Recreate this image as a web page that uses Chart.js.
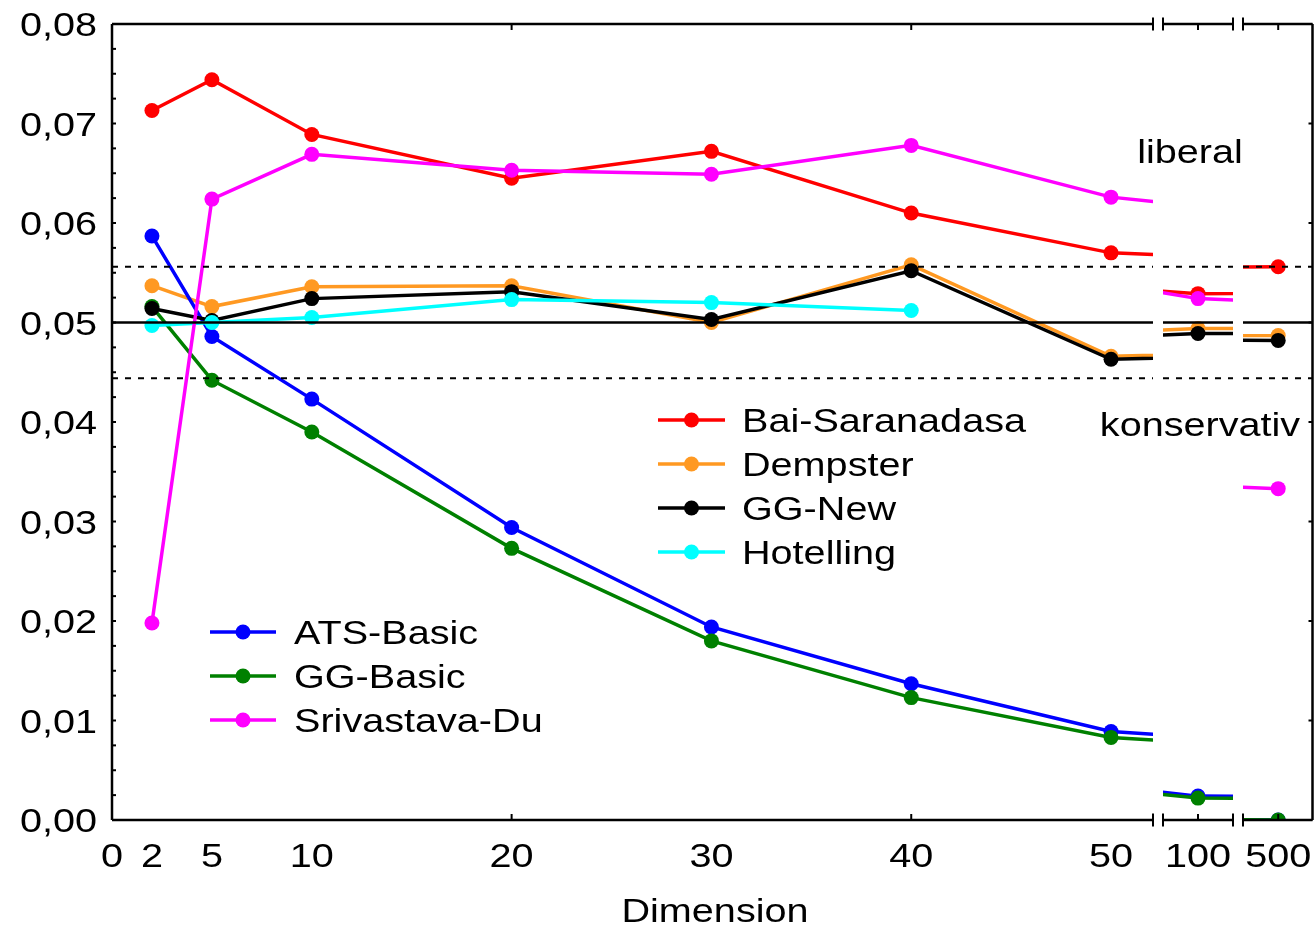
<!DOCTYPE html>
<html>
<head>
<meta charset="utf-8">
<script src="https://cdn.jsdelivr.net/npm/chart.js@4.4.0/dist/chart.umd.min.js"></script>
<style>
  html, body { margin: 0; padding: 0; background: #fff; overflow: hidden; }
  #wrap { position: relative; width: 1315px; height: 926px; overflow: hidden; }
  #wrap canvas { position: absolute; left: 0; top: 0; }
</style>
</head>
<body>
<div id="wrap">
  <canvas id="panelMain" width="1320" height="926"></canvas>
  <canvas id="panel100" width="1320" height="926"></canvas>
  <canvas id="panel500" width="1320" height="926"></canvas>
</div>
<script>
// Dimensions and empirical type-I error rates of each test
const dims = [2, 5, 10, 20, 30, 40, 50, 100, 500];
const baiSaranadasa = [0.0713, 0.0744, 0.0689, 0.0645, 0.0672, 0.0610, 0.0570, 0.0529, 0.0556];
const dempster      = [0.0537, 0.0516, 0.0536, 0.0537, 0.0500, 0.0558, 0.0466, 0.0494, 0.0487];
const ggNew         = [0.0514, 0.0502, 0.0524, 0.0531, 0.0503, 0.0552, 0.0463, 0.0489, 0.0482];
const hotelling     = [0.0497, 0.0500, 0.0505, 0.0523, 0.0520, 0.0512, null, null, null];
const atsBasic      = [0.0587, 0.0486, 0.0423, 0.0294, 0.0194, 0.0137, 0.0089, 0.0024, 0.0000];
const ggBasic       = [0.0516, 0.0442, 0.0390, 0.0273, 0.0180, 0.0123, 0.0083, 0.0022, 0.0000];
const srivastavaDu  = [0.0198, 0.0624, 0.0669, 0.0653, 0.0649, 0.0678, 0.0626, 0.0524, 0.0333];

// Axis ticks and labels
const yTickValues = [0, 0.01, 0.02, 0.03, 0.04, 0.05, 0.06, 0.07, 0.08];
const xLabelsMain = [0, 2, 5, 10, 20, 30, 40, 50];
const xLabels100 = [100];
const xLabels500 = [500];

// Nominal level and its tolerance band
const nominalLevel = 0.05;
const bandUpper = 0.0556;
const bandLower = 0.0444;

const legendTop = ['Bai-Saranadasa', 'Dempster', 'GG-New', 'Hotelling'];
const legendBottom = ['ATS-Basic', 'GG-Basic', 'Srivastava-Du'];

const series = [
  { name: 'Bai-Saranadasa', values: baiSaranadasa, color: '#ff0000', order: 7 },
  { name: 'Dempster',       values: dempster,      color: '#ff9922', order: 6 },
  { name: 'ATS-Basic',      values: atsBasic,      color: '#0000ff', order: 5 },
  { name: 'GG-Basic',       values: ggBasic,       color: '#008000', order: 4 },
  { name: 'GG-New',         values: ggNew,         color: '#000000', order: 3 },
  { name: 'Hotelling',      values: hotelling,     color: '#00ffff', order: 2 },
  { name: 'Srivastava-Du',  values: srivastavaDu,  color: '#ff00ff', order: 1 }
];

const FONT = '33px "Liberation Sans", Arial, sans-serif';
const STRETCH = 1.2;
const LINE_W = 3.5;
const POINT_R = 7.5;

function wideText(ctx, text, x, y, align) {
  ctx.save();
  ctx.font = FONT;
  ctx.fillStyle = '#000';
  ctx.textBaseline = 'alphabetic';
  ctx.translate(x, y);
  ctx.scale(STRETCH, 1);
  ctx.textAlign = align;
  ctx.fillText(text, 0, 0);
  ctx.restore();
}

function line(ctx, x1, y1, x2, y2) {
  ctx.beginPath();
  ctx.moveTo(x1, y1);
  ctx.lineTo(x2, y2);
  ctx.stroke();
}

function drawLegend(ctx, chart, names, x0, x1, textX, y0, step) {
  names.forEach((name, i) => {
    const ds = chart.data.datasets.find(d => d.label === name);
    const cy = y0 + i * step;
    ctx.save();
    ctx.strokeStyle = ds.borderColor;
    ctx.lineWidth = LINE_W;
    line(ctx, x0, cy, x1, cy);
    ctx.fillStyle = ds.borderColor;
    ctx.beginPath();
    ctx.arc((x0 + x1) / 2, cy, POINT_R, 0, Math.PI * 2);
    ctx.fill();
    ctx.restore();
    wideText(ctx, name, textX, cy + 12, 'left');
  });
}

function panelPlugin(panel) {
  return {
    id: 'brokenAxisFrame',
    afterDatasetsDraw(chart) {
      const ctx = chart.ctx;
      const a = chart.chartArea;
      const xs = chart.scales.x;
      const ys = chart.scales.y;
      ctx.save();
      ctx.strokeStyle = '#000';

      // nominal level and tolerance band
      ctx.lineWidth = 2.5;
      const pn = ys.getPixelForValue(nominalLevel);
      line(ctx, a.left, pn, a.right, pn);
      ctx.lineWidth = 2;
      ctx.setLineDash([6, 7]);
      [bandUpper, bandLower].forEach(v => {
        const p = ys.getPixelForValue(v);
        line(ctx, a.left, p, a.right, p);
      });
      ctx.setLineDash([]);

      // frame
      ctx.lineWidth = 2.5;
      line(ctx, a.left, a.top, a.right, a.top);
      line(ctx, a.left, a.bottom, a.right, a.bottom);
      if (panel.leftAxis) line(ctx, a.left, a.top, a.left, a.bottom);
      if (panel.rightAxis) line(ctx, a.right, a.top, a.right, a.bottom);

      // break marks
      ctx.lineWidth = 2;
      panel.breaks.forEach(side => {
        const bx = side === 'left' ? a.left : a.right;
        [a.top, a.bottom].forEach(by => line(ctx, bx, by - 6.5, bx, by + 6.5));
      });

      // x tick marks (bottom and mirrored top)
      panel.xTicks.forEach(v => {
        const px = xs.getPixelForValue(v);
        line(ctx, px, a.bottom, px, a.bottom - 6);
        line(ctx, px, a.top, px, a.top + 6);
      });

      // y tick marks
      if (panel.leftAxis) {
        for (let i = 0; i <= 32; i++) {
          const p = ys.getPixelForValue(i * 0.0025);
          line(ctx, a.left, p, a.left + 4, p);
        }
      }
      if (panel.rightAxis) {
        yTickValues.forEach(v => {
          const p = ys.getPixelForValue(v);
          line(ctx, a.right - 4, p, a.right, p);
        });
      }
      ctx.restore();

      // tick labels
      if (panel.leftAxis) {
        yTickValues.forEach(v => {
          wideText(ctx, v.toFixed(2).replace('.', ','), 97, ys.getPixelForValue(v) + 12, 'right');
        });
      }
      panel.xLabels.forEach(v => {
        wideText(ctx, String(v), xs.getPixelForValue(v), 867, 'center');
      });

      // shared texts and legends
      if (panel.shared) {
        wideText(ctx, 'Dimension', 715, 922, 'center');
        wideText(ctx, 'liberal', 1190, 163, 'center');
        wideText(ctx, 'konservativ', 1200, 436, 'center');
        drawLegend(ctx, chart, legendTop, 658, 725, 742, 420, 44);
        drawLegend(ctx, chart, legendBottom, 210, 276, 294, 632, 44);
      }
    }
  };
}

function makePanel(id, panel) {
  return new Chart(document.getElementById(id), {
    type: 'line',
    data: {
      datasets: series.map(s => ({
        label: s.name,
        data: dims.map((d, i) => ({ x: d, y: s.values[i] })),
        borderColor: s.color,
        backgroundColor: s.color,
        pointBackgroundColor: s.color,
        pointBorderColor: s.color,
        pointRadius: POINT_R,
        pointBorderWidth: 0,
        borderWidth: LINE_W,
        tension: 0,
        clip: 0,
        spanGaps: false,
        order: s.order
      }))
    },
    options: {
      responsive: false,
      animation: false,
      devicePixelRatio: 1,
      events: [],
      layout: { padding: panel.padding },
      plugins: {
        legend: { display: false },
        tooltip: { enabled: false },
        title: { display: false }
      },
      scales: {
        x: { type: 'linear', min: panel.xMin, max: panel.xMax, display: false },
        y: { type: 'linear', min: 0, max: 0.08, display: false }
      }
    },
    plugins: [panelPlugin(panel)]
  });
}

makePanel('panelMain', {
  xMin: 0, xMax: 52.1,
  padding: { left: 112, top: 24, right: 167, bottom: 106 },
  leftAxis: true, rightAxis: false, breaks: ['right'],
  xTicks: [20, 40], xLabels: xLabelsMain, shared: false
});
makePanel('panel100', {
  xMin: 97.08, xMax: 102.92,
  padding: { left: 1163, top: 24, right: 87, bottom: 106 },
  leftAxis: false, rightAxis: false, breaks: ['left', 'right'],
  xTicks: [100], xLabels: xLabels100, shared: false
});
makePanel('panel500', {
  xMin: 496.92, xMax: 503.0,
  padding: { left: 1243, top: 24, right: 4, bottom: 106 },
  leftAxis: false, rightAxis: true, breaks: ['left'],
  xTicks: [500], xLabels: xLabels500, shared: true
});
</script>
</body>
</html>
